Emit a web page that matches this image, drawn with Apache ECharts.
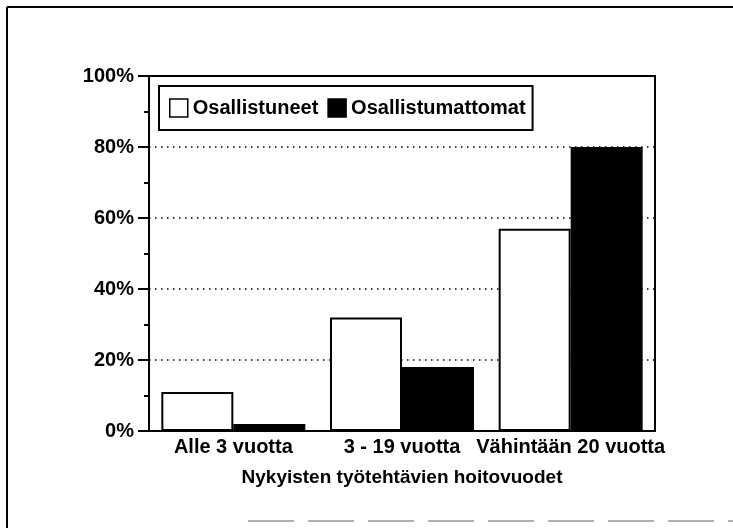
<!DOCTYPE html>
<html>
<head>
<meta charset="utf-8">
<script src="https://cdn.jsdelivr.net/npm/echarts@6/dist/echarts.min.js"></script>
<style>
html,body{margin:0;padding:0;background:#fff;}
#chart{width:733px;height:528px;}
</style>
</head>
<body>
<div id="chart"></div>
<script>
const categories = ['Alle 3 vuotta', '3 - 19 vuotta', 'Vähintään 20 vuotta'];
const osallistuneet = [11, 32, 57];
const osallistumattomat = [2, 18, 80];
const seriesNames = ['Osallistuneet', 'Osallistumattomat'];
const axisTitle = 'Nykyisten työtehtävien hoitovuodet';

const FONT = 'Liberation Sans, Arial, Helvetica, sans-serif';
const chart = echarts.init(document.getElementById('chart'), null, {renderer: 'canvas'});

chart.setOption({
  backgroundColor: '#fff',
  animation: false,
  grid: {
    left: 149, right: 78, top: 76, bottom: 97,
    show: true, borderColor: '#000', borderWidth: 2, backgroundColor: 'transparent'
  },
  legend: {
    left: 159, top: 86,
    orient: 'horizontal',
    itemWidth: 18, itemHeight: 18, itemGap: 9,
    padding: [12, 7, 12, 10],
    borderColor: '#000', borderWidth: 2,
    textStyle: {fontFamily: FONT, fontSize: 20, fontWeight: 'bold', color: '#000'},
    icon: 'rect',
    data: [
      {name: seriesNames[0], itemStyle: {color: '#fff', borderColor: '#000', borderWidth: 1.5}},
      {name: seriesNames[1], itemStyle: {color: '#000', borderColor: '#000', borderWidth: 1.5}}
    ]
  },
  xAxis: {
    type: 'category',
    data: categories,
    name: axisTitle,
    nameLocation: 'middle',
    nameGap: 37,
    nameTextStyle: {fontFamily: FONT, fontSize: 19, fontWeight: 'bold', color: '#000'},
    axisLine: {show: true, lineStyle: {color: '#000', width: 2}},
    axisTick: {show: false},
    axisLabel: {interval: 0, hideOverlap: false, margin: 6, fontFamily: FONT, fontSize: 20, fontWeight: 'bold', color: '#000'},
    splitLine: {show: false}
  },
  yAxis: {
    type: 'value',
    min: 0, max: 100, interval: 20,
    axisLine: {show: true, lineStyle: {color: '#000', width: 2}},
    axisTick: {show: true, inside: false, length: 11, lineStyle: {color: '#000', width: 2}},
    minorTick: {show: true, splitNumber: 2, length: 5, lineStyle: {color: '#000', width: 2}},
    axisLabel: {margin: 15, fontFamily: FONT, fontSize: 20, fontWeight: 'bold', color: '#000', formatter: '{value}%'},
    splitLine: {show: true, lineStyle: {color: '#000', width: 1.5, type: [1.5, 4.5]}}
  },
  series: [
    {
      name: seriesNames[0], type: 'bar', data: osallistuneet,
      barWidth: 72, barGap: '0%',
      itemStyle: {color: '#fff', borderColor: '#000', borderWidth: 2}
    },
    {
      name: seriesNames[1], type: 'bar', data: osallistumattomat,
      barWidth: 72, barGap: '0%',
      itemStyle: {color: '#000', borderColor: '#000', borderWidth: 2}
    }
  ],
  graphic: [
    {type: 'line', shape: {x1: 7, y1: 7, x2: 733, y2: 7}, style: {stroke: '#000', lineWidth: 2}, silent: true},
    {type: 'line', shape: {x1: 7, y1: 7, x2: 7, y2: 528}, style: {stroke: '#000', lineWidth: 2}, silent: true},
    {type: 'line', shape: {x1: 248, y1: 521, x2: 733, y2: 521}, style: {stroke: '#b0b0b0', lineWidth: 2, lineDash: [46, 14]}, silent: true}
  ]
});
</script>
</body>
</html>
